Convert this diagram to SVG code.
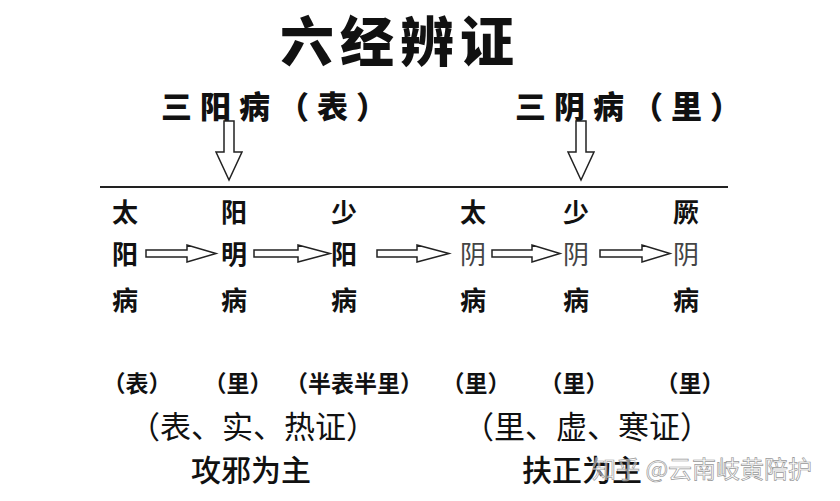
<svg xmlns="http://www.w3.org/2000/svg" width="840" height="501" viewBox="0 0 840 501">
<style>
text{font-family:"Noto Sans CJK SC","Noto Sans",sans-serif;fill:#111}
.title{font-size:54px;font-weight:900;letter-spacing:6px}
.group{font-size:31px;font-weight:900;letter-spacing:8px}
.node{font-size:26px;font-weight:700;text-anchor:middle}
.yin{font-weight:400;fill:#444}
.lab{font-size:23px;font-weight:700;text-anchor:middle}
.sum{font-size:31px;font-weight:400;text-anchor:middle}
.rule{font-size:30px;font-weight:500;text-anchor:middle}
.arrow{fill:#fff;stroke:#222;stroke-width:1.5;stroke-linejoin:miter}
.wm{font-size:24px;font-weight:400;fill:#fff;fill-opacity:0.5;stroke:#999;stroke-width:0.7}
</style>
<rect width="840" height="501" fill="#fff"/>
<g id="title"><text class="title" x="280" y="62">六经辨证</text></g>
<g id="sanyang"><text class="group" x="161" y="118">三阳病（表）</text></g>
<g id="sanyin"><text class="group" x="515" y="118">三阴病（里）</text></g>
<g id="axis"><line x1="100" y1="187" x2="728" y2="187" stroke="#222" stroke-width="2"/></g>
<g id="taiyang"><text class="node" x="125" y="222">太</text><text class="node" x="125" y="264">阳</text><text class="node" x="125" y="310">病</text></g>
<g id="yangming"><text class="node" x="234" y="222">阳</text><text class="node" x="234" y="264">明</text><text class="node" x="234" y="310">病</text></g>
<g id="shaoyang"><text class="node" x="344" y="222">少</text><text class="node" x="344" y="264">阳</text><text class="node" x="344" y="310">病</text></g>
<g id="taiyin"><text class="node" x="473" y="222">太</text><text class="node yin" x="473" y="264">阴</text><text class="node" x="473" y="310">病</text></g>
<g id="shaoyin"><text class="node" x="576" y="222">少</text><text class="node yin" x="576" y="264">阴</text><text class="node" x="576" y="310">病</text></g>
<g id="jueyin"><text class="node" x="686" y="222">厥</text><text class="node yin" x="686" y="264">阴</text><text class="node" x="686" y="310">病</text></g>
<g id="connectors">
<polygon class="arrow" points="224,121 234,121 234,152 242,152 229,180 216,152 224,152"/>
<polygon class="arrow" points="576,121 586,121 586,152 594,152 581,180 568,152 576,152"/>
<polygon class="arrow" points="146,250 187,250 187,245 216,253.5 187,262 187,257 146,257"/>
<polygon class="arrow" points="254,250 298,250 298,245 330,253.5 298,262 298,257 254,257"/>
<polygon class="arrow" points="377,250 417,250 417,245 449,253.5 417,262 417,257 377,257"/>
<polygon class="arrow" points="492,250 532,250 532,245 560,253.5 532,262 532,257 492,257"/>
<polygon class="arrow" points="600,250 642,250 642,245 670,253.5 642,262 642,257 600,257"/>
</g>
<g id="labels">
<text class="lab" x="137" y="392">（表）</text>
<text class="lab" x="238" y="392">（里）</text>
<text class="lab" x="354" y="392">（半表半里）</text>
<text class="lab" x="476" y="392">（里）</text>
<text class="lab" x="574" y="392">（里）</text>
<text class="lab" x="690" y="392">（里）</text>
</g>
<g id="yang-summary"><text class="sum" x="253" y="438">（表、实、热证）</text><text class="rule" x="251" y="481">攻邪为主</text></g>
<g id="yin-summary"><text class="sum" x="587" y="438">（里、虚、寒证）</text><text class="rule" x="582" y="481" font-weight="700">扶正为主</text></g>
<g id="watermark"><text class="wm" x="592" y="478">知乎 @云南岐黄陪护</text></g>
</svg>
